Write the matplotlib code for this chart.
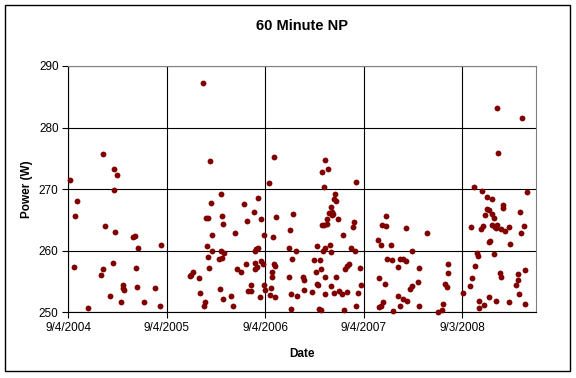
from datetime import date, timedelta
import matplotlib
matplotlib.use("Agg")
import matplotlib.pyplot as plt
from matplotlib.patches import Rectangle

plt.rcParams['font.family'] = ['Liberation Sans', 'DejaVu Sans']

# days after 9/4/2004 and 60 minute normalized power (W)
days = [129, 169, 179, 6, 169, 31, 25, 135, 173, 239, 246, 258, 22, 129, 120, 167, 252, 203, 202, 206, 256, 156, 196, 282, 73,
        526, 498, 567, 527, 510, 519, 571, 574, 534, 345, 515, 534, 565, 577, 519, 558, 568, 522, 462, 450,
        456, 485, 320, 561, 489, 574, 507, 503, 341,
        763, 744, 702, 650, 688, 833, 663, 715, 771, 823, 619, 726, 760, 702, 696, 691, 819, 843, 829, 660,
        692, 715, 723, 698, 692, 763, 767, 626, 640, 756, 754, 819, 871, 873, 678, 726, 750, 667, 678, 730,
        873, 746, 767, 711, 604, 826, 846, 611, 825,
        952, 941, 963, 1066, 946, 989, 986, 993, 973, 967, 976, 982, 977, 960, 1000, 940, 949, 959, 1060, 1054,
        1019, 923, 950, 945, 970, 973, 1049, 1062, 912, 932, 917, 935, 1033, 1039, 1025, 1080, 952, 993, 923, 925,
        973, 1084, 904, 953, 986, 1004, 1013, 1032, 1075, 1066, 929, 938, 1022,
        1176, 1162, 1178, 1253, 1330, 1148, 1159, 1197, 1273, 1180, 1201, 1228, 1241, 1252, 1221, 1301, 1406, 1406, 1152, 1174,
        1297, 1273, 1266, 1395, 1404, 1221, 1241, 1255, 1165, 1158, 1152, 1228, 1301, 1204, 1390, 1386, 1370, 1461,
        1589, 1681, 1592, 1503, 1534, 1699, 1550, 1569, 1612, 1612, 1552, 1558, 1544, 1570, 1579, 1675, 1493, 1530, 1538, 1570,
        1580, 1587, 1584, 1605, 1619, 1634, 1688, 1678, 1558, 1564, 1637, 1516, 1519, 1579, 1508, 1599, 1603, 1668, 1692, 1668,
        1496, 1490, 1658, 1671, 1558, 1523, 1586, 1634, 1691, 1539, 1523]

power = [275.7, 273.3, 272.3, 271.5, 269.8, 268.0, 265.7, 264.0, 263.1, 262.2, 262.4, 260.4, 257.4, 257.0, 256.1, 258.0, 257.2,
         254.4, 253.9, 253.7, 254.1, 252.6, 251.7, 251.7, 250.7,
         274.5, 287.3, 269.2, 267.8, 265.3, 265.3, 265.6, 264.4, 262.6, 261.0, 260.8, 259.9, 259.9, 259.6, 258.9, 258.7, 258.8,
         257.2, 256.6, 255.9, 256.1, 255.5, 254.0, 253.8, 253.1, 252.2, 251.7, 251.1, 251.0,
         275.2, 271.0, 268.6, 267.6, 266.3, 266.0, 264.9, 265.2, 265.4, 263.4, 262.9, 262.6, 262.3, 260.5, 260.3, 260.0, 260.4,
         260.0, 258.7, 257.9, 258.0, 258.4, 257.8, 257.4, 257.1, 257.8, 257.5, 257.0, 256.6, 256.6, 255.8, 255.7, 255.8, 255.3,
         254.5, 254.5, 254.0, 253.5, 253.5, 253.7, 253.6, 252.8, 252.5, 252.5, 252.6, 252.9, 252.7, 251.1, 250.5,
         274.8, 272.8, 273.3, 271.1, 270.4, 269.2, 268.4, 268.1, 267.1, 266.1, 266.3, 266.0, 265.8, 265.1, 265.1, 264.2, 264.2,
         264.4, 264.6, 263.8, 262.6, 260.7, 260.5, 260.0, 261.0, 259.8, 260.4, 260.0, 258.5, 258.5, 256.6, 257.0, 257.6, 257.8,
         257.1, 257.2, 255.8, 255.8, 254.6, 254.5, 254.3, 254.4, 253.3, 253.0, 253.2, 253.5, 252.9, 253.3, 253.2, 251.1,
         250.5, 250.3, 250.3,
         265.6, 264.2, 264.0, 263.7, 262.8, 261.7, 261.0, 261.0, 259.9, 258.7, 258.5, 258.6, 258.6, 258.4, 257.4, 257.2, 257.8,
         256.4, 255.5, 254.6, 255.0, 254.3, 253.8, 254.6, 254.1, 252.7, 252.1, 251.9, 251.7, 251.1, 250.9, 251.0, 251.0, 250.2,
         251.4, 250.4, 250.0, 253.1,
         283.1, 281.6, 275.9, 270.4, 269.7, 269.5, 268.7, 268.4, 267.5, 266.9, 266.8, 266.6, 265.8, 266.0, 265.3, 266.3, 263.8,
         263.6, 264.0, 264.2, 263.9, 264.1, 263.7, 263.5, 263.2, 263.9, 264.0, 262.8, 261.4, 261.6, 261.1, 259.7, 259.1, 259.5,
         257.6, 256.4, 255.7, 256.3, 256.9, 255.2, 255.5, 254.3, 254.5, 253.0, 252.5, 251.9, 251.9, 251.6, 251.3, 251.2, 250.7]

start = date(2004, 9, 4)
dates = [start + timedelta(days=d) for d in days]
tick_dates = [start + timedelta(days=365 * k) for k in range(5)]
y_ticks = [250, 260, 270, 280, 290]

fig = plt.figure(figsize=(5.76, 3.78), dpi=100)
fig.patches.append(Rectangle((5 / 576, 1 - 371 / 378), 565 / 576, 366 / 378, transform=fig.transFigure,
                             fill=False, edgecolor='black', linewidth=1))
ax = fig.add_axes([68.3 / 576, 1 - 312.3 / 378, 467.7 / 576, 246.3 / 378])

ax.plot(dates, power, 'o', color='#800000', markersize=4.2, markeredgewidth=0, clip_on=False, zorder=3)

ax.set_xlim(start, start + timedelta(days=1733))
ax.set_ylim(250, 290)
ax.set_xticks(tick_dates)
ax.set_xticklabels([f"{d.month}/{d.day}/{d.year}" for d in tick_dates])
ax.set_yticks(y_ticks)
ax.grid(True, color='black', linewidth=0.8)
ax.tick_params(direction='out', length=4, width=0.8, labelsize=8.5, pad=3)

for s in ['top', 'right']:
    ax.spines[s].set_color('#808080')
for s in ['left', 'bottom']:
    ax.spines[s].set_color('black')

ax.set_title("60 Minute NP", fontsize=10.5, fontweight='bold', pad=26)
ax.set_xlabel("Date", fontsize=8.5, fontweight='bold', labelpad=10)
ax.set_ylabel("Power (W)", fontsize=8.5, fontweight='bold', labelpad=4)

fig.savefig("out.png", dpi=100)
